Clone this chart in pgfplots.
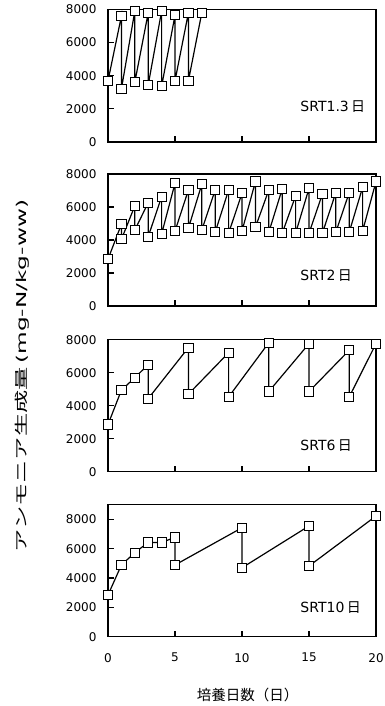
\documentclass[border=0pt]{standalone}
\usepackage{fontspec}
\usepackage{pgfplots}
\pgfplotsset{compat=1.18}
\setmainfont{DejaVu Sans}
\newfontfamily\jp{Noto Sans CJK JP}

\pgfplotsset{
  panel/.style={
    scale only axis,
    width=268pt, height=132pt,
    anchor=south west,
    xmin=0, xmax=20,
    ymin=0, ymax=8000,
    xtick={0,5,10,15,20},
    ytick={0,2000,4000,6000,8000},
    tick pos=left,
    tick align=inside,
    major tick length=6pt,
    axis line style={line width=1.2pt},
    tick style={line width=1.1pt, black},
    /pgf/number format/1000 sep={},
    /pgf/number format/assume math mode=true,
    tick label style={font=\fontsize{12}{12}\selectfont},
    yticklabel style={xshift=-8pt},
    xticklabel style={yshift=-13pt},
    clip=false,
  },
  saw/.style={
    black, line width=1.2pt,
    mark=square*, mark size=4.6pt,
    mark options={fill=white, draw=black, line width=1pt, solid},
  },
}

\newcommand{\srt}[1]{\fontsize{14}{14}\selectfont SRT#1\,{\jp 日}}

\begin{document}
\begin{tikzpicture}[x=1pt, y=1pt]
\path[use as bounding box] (0,0) rectangle (384,-706);

% SRT 1.3 days
\begin{axis}[panel, at={(108pt,-142pt)}, height=132.5pt, xticklabels={}]
\addplot[saw] coordinates {
  (0,3690) (1,7600) (1,3200) (2,7900) (2,3600) (3,7800) (3,3440)
  (4,7900) (4,3360) (5,7650) (5,3690) (6,7800) (6,3690) (7,7800)
};
\node[anchor=west] at (rel axis cs:0.705,0.264) {\srt{1.3}};
\end{axis}

% SRT 2 days
\begin{axis}[panel, at={(108pt,-306pt)}, xticklabels={}]
\addplot[saw] coordinates {
  (0,2840) (1,4950) (1,4040) (2,6060) (2,4600) (3,6260) (3,4200)
  (4,6620) (4,4360) (5,7440) (5,4540) (6,7030) (6,4710) (7,7380) (7,4600)
  (8,7030) (8,4470) (9,7030) (9,4410) (10,6830) (10,4540) (11,7540) (11,4770)
  (12,7030) (12,4470) (13,7090) (13,4410) (14,6670) (14,4410) (15,7130) (15,4410)
  (16,6790) (16,4410) (17,6870) (17,4470) (18,6870) (18,4470) (19,7190) (19,4540)
  (20,7540)
};
\node[anchor=west] at (rel axis cs:0.705,0.227) {\srt{2}};
\end{axis}

% SRT 6 days
\begin{axis}[panel, at={(108pt,-471.7pt)}, xticklabels={}]
\addplot[saw] coordinates {
  (0,2860) (1,4940) (2,5700) (3,6490) (3,4430) (6,7520) (6,4700)
  (9,7210) (9,4530) (12,7820) (12,4860) (15,7760) (15,4860)
  (18,7360) (18,4530) (20,7760)
};
\node[anchor=west] at (rel axis cs:0.705,0.195) {\srt{6}};
\end{axis}

% SRT 10 days
\begin{axis}[panel, at={(108pt,-636.7pt)}, ymax=9000]
\addplot[saw] coordinates {
  (0,2840) (1,4890) (2,5730) (3,6430) (4,6430) (5,6770) (5,4890)
  (10,7430) (10,4700) (15,7550) (15,4820) (20,8230)
};
\node[anchor=west] at (rel axis cs:0.705,0.217) {\srt{10}};
\end{axis}

% axis titles
\node[rotate=90, xscale=1.72, font=\fontsize{13.5}{13.5}\selectfont] at (22,-376)
  {{\jp アンモニア生成量}\,(mg-N/kg-ww)};
\node[font=\fontsize{14.5}{14.5}\selectfont\jp] at (247.5,-695) {培養日数（日）};
\end{tikzpicture}
\end{document}
